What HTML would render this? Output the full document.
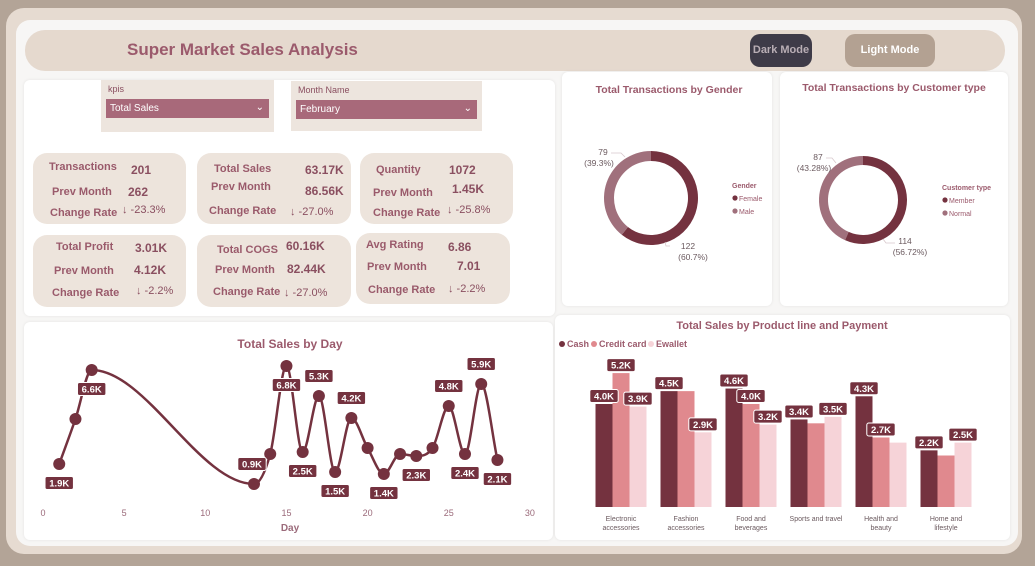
<!DOCTYPE html>
<html><head><meta charset="utf-8"><style>
*{box-sizing:border-box;margin:0;padding:0}
body{width:1035px;height:566px;overflow:hidden;background:#b3a497;font-family:"Liberation Sans",sans-serif;position:relative}
.abs{position:absolute}
.frame{left:6px;top:8px;width:1016px;height:546px;background:#e6dbd1;border-radius:18px}
.inner{left:16px;top:20px;width:1002px;height:526px;background:#f7f6f5;border-radius:14px}
.header{left:25px;top:30px;width:980px;height:41px;background:#e5d9ce;border-radius:20px}
.title{left:127px;top:40px;font-size:17px;font-weight:bold;color:#9b5a6c}
.btn{border-radius:10px;font-size:11px;font-weight:bold;text-align:center;line-height:32px}
.panel{background:#fff;border-radius:6px;box-shadow:0 0 3px rgba(0,0,0,.08)}
.slicer{background:#ede5de}
.slicer .lbl{position:absolute;left:7px;top:4px;font-size:9px;color:#8a4f60}
.slicer .dd{position:absolute;left:5px;top:19px;height:19px;background:#a8697a;color:#fff;font-size:10px;padding-left:4px;line-height:19px}
.card{background:#ede4dc;border-radius:14px;color:#9a5a6b;font-size:11px;font-weight:bold}
.card span{position:absolute;white-space:nowrap}
.card .v{color:#8a4f60;font-size:12px}
</style></head><body>
<div class="abs frame"></div>
<div class="abs inner"></div>
<div class="abs header"></div>
<div class="abs title">Super Market Sales Analysis</div>
<div class="abs btn" style="left:750px;top:34px;width:62px;height:33px;background:#3e3b48;color:#b9aeb5">Dark Mode</div>
<div class="abs btn" style="left:845px;top:34px;width:90px;height:33px;background:#b3a192;color:#fff">Light Mode</div>

<div class="abs panel" style="left:24px;top:80px;width:531px;height:236px"></div>
<div class="abs slicer" style="left:101px;top:80px;width:173px;height:52px">
 <div class="lbl">kpis</div>
 <div class="dd" style="width:163px">Total Sales<span style="position:absolute;right:5px;top:-1px">&#8964;</span></div>
</div>
<div class="abs slicer" style="left:291px;top:81px;width:191px;height:50px">
 <div class="lbl">Month Name</div>
 <div class="dd" style="width:181px">February<span style="position:absolute;right:5px;top:-1px">&#8964;</span></div>
</div>

<div class="abs card" style="left:33px;top:153px;width:153px;height:71px">
 <span style="left:16px;top:8px">Transactions</span><span class="v" style="left:98px;top:10px">201</span>
 <span style="left:19px;top:33px">Prev Month</span><span class="v" style="left:95px;top:32px">262</span>
 <span style="left:17px;top:54px">Change Rate</span><span style="left:89px;top:51px;font-weight:normal;color:#8a4f60">↓ -23.3%</span></div>
<div class="abs card" style="left:197px;top:153px;width:154px;height:71px">
 <span style="left:17px;top:10px">Total Sales</span><span class="v" style="left:108px;top:10px">63.17K</span>
 <span style="left:14px;top:28px">Prev Month</span><span class="v" style="left:108px;top:31px">86.56K</span>
 <span style="left:12px;top:52px">Change Rate</span><span style="left:93px;top:53px;font-weight:normal;color:#8a4f60">↓ -27.0%</span></div>
<div class="abs card" style="left:360px;top:153px;width:153px;height:71px">
 <span style="left:16px;top:11px">Quantity</span><span class="v" style="left:89px;top:10px">1072</span>
 <span style="left:13px;top:34px">Prev Month</span><span class="v" style="left:92px;top:29px">1.45K</span>
 <span style="left:13px;top:54px">Change Rate</span><span style="left:87px;top:51px;font-weight:normal;color:#8a4f60">↓ -25.8%</span></div>
<div class="abs card" style="left:33px;top:235px;width:153px;height:72px">
 <span style="left:23px;top:6px">Total Profit</span><span class="v" style="left:102px;top:6px">3.01K</span>
 <span style="left:21px;top:30px">Prev Month</span><span class="v" style="left:101px;top:28px">4.12K</span>
 <span style="left:19px;top:52px">Change Rate</span><span style="left:103px;top:50px;font-weight:normal;color:#8a4f60">↓ -2.2%</span></div>
<div class="abs card" style="left:197px;top:235px;width:154px;height:72px">
 <span style="left:20px;top:9px">Total COGS</span><span class="v" style="left:89px;top:4px">60.16K</span>
 <span style="left:18px;top:29px">Prev Month</span><span class="v" style="left:90px;top:27px">82.44K</span>
 <span style="left:16px;top:51px">Change Rate</span><span style="left:87px;top:52px;font-weight:normal;color:#8a4f60">↓ -27.0%</span></div>
<div class="abs card" style="left:356px;top:233px;width:154px;height:71px">
 <span style="left:10px;top:6px">Avg Rating</span><span class="v" style="left:92px;top:7px">6.86</span>
 <span style="left:11px;top:28px">Prev Month</span><span class="v" style="left:101px;top:26px">7.01</span>
 <span style="left:12px;top:51px">Change Rate</span><span style="left:92px;top:50px;font-weight:normal;color:#8a4f60">↓ -2.2%</span></div>

<div class="abs panel" style="left:562px;top:72px;width:210px;height:234px"></div>
<div class="abs panel" style="left:780px;top:72px;width:228px;height:234px"></div>
<div class="abs panel" style="left:24px;top:322px;width:529px;height:218px"></div>
<div class="abs panel" style="left:555px;top:315px;width:455px;height:225px"></div>

<svg class="abs" style="left:0;top:0" width="1035" height="566" id="charts" font-family="Liberation Sans, sans-serif"></svg>

<script>
// ---------- data ----------
const days = [1,2,3,13,14,15,16,17,18,19,20,21,22,23,24,25,26,27,28];
const daySales = [1.9,4.15,6.6,0.9,2.4,6.8,2.5,5.3,1.5,4.2,2.7,1.4,2.4,2.3,2.7,4.8,2.4,5.9,2.1];
const dayLabelPos = ['b','','b','a','','b','b','a','b','a','','b','','b','','a','b','a','b'];
const xTicks = [0,5,10,15,20,25,30];

const productLines = [['Electronic','accessories'],['Fashion','accessories'],['Food and','beverages'],['Sports and travel'],['Health and','beauty'],['Home and','lifestyle']];
const cashSales = [4.0,4.5,4.6,3.4,4.3,2.2];
const creditSales = [5.2,4.5,4.0,3.25,2.7,2.0];
const ewalletSales = [3.9,2.9,3.2,3.5,2.5,2.5];
const cashShow = [true,true,true,true,true,true];
const creditShow = [true,false,true,false,true,false];
const ewalletShow = [true,true,true,true,false,true];

const genderLabels = ['Female','Male'];
const genderValues = [122,79];
const customerLabels = ['Member','Normal'];
const customerValues = [114,87];

const NS='http://www.w3.org/2000/svg';
const svg=document.getElementById('charts');
function el(tag,attrs,parent){const e=document.createElementNS(NS,tag);for(const k in attrs)e.setAttribute(k,attrs[k]);(parent||svg).appendChild(e);return e;}
function txt(x,y,s,attrs){const t=el('text',Object.assign({x:x,y:y},attrs||{}));t.textContent=s;return t;}
function fmt(v){return v.toFixed(1)+'K';}
function labelBox(cx,cy,s,name){
  const w=s.length*5.6+6,h=13;
  const g=el('g',{});
  
  
  el('rect',{x:cx-w/2,y:cy-h/2,width:w,height:h,rx:2,fill:'#74323f',stroke:'#fff','stroke-width':1},g);
  const t=el('text',{x:cx,y:cy+3.5,'text-anchor':'middle','font-size':9.5,'font-weight':'bold',fill:'#fff'},g);t.textContent=s;
}

// ---------- line chart ----------
const lx=d=>43+d*16.23, ly=v=>502-v*20;
let t1=txt(290,348,'Total Sales by Day',{'text-anchor':'middle','font-size':12,'font-weight':'bold',fill:'#9b5a6c'});

xTicks.forEach(d=>{const t=txt(lx(d),516,String(d),{'text-anchor':'middle','font-size':9,fill:'#9b6a7a'});
});
let t2=txt(290,531,'Day',{'text-anchor':'middle','font-size':10,'font-weight':'bold',fill:'#9b6a7a'});

const X=days.map(lx),Y=daySales.map(ly),n=X.length;
const dd=[],m=[];
for(let i=0;i<n-1;i++)dd.push((Y[i+1]-Y[i])/(X[i+1]-X[i]));
for(let i=0;i<n;i++){if(i==0)m.push(dd[0]);else if(i==n-1)m.push(dd[n-2]);else m.push(dd[i-1]*dd[i]<=0?0:(dd[i-1]+dd[i])/2);}
for(let i=0;i<n-1;i++){if(dd[i]==0){m[i]=m[i+1]=0;continue;}const a=m[i]/dd[i],b=m[i+1]/dd[i],s=a*a+b*b;if(s>9){const tt=3/Math.sqrt(s);m[i]=tt*a*dd[i];m[i+1]=tt*b*dd[i];}}
let p='M'+X[0]+','+Y[0];
for(let i=0;i<n-1;i++){const h=(X[i+1]-X[i])/3;p+=' C'+(X[i]+h)+','+(Y[i]+m[i]*h)+' '+(X[i+1]-h)+','+(Y[i+1]-m[i+1]*h)+' '+X[i+1]+','+Y[i+1];}
const line=el('path',{d:p,fill:'none',stroke:'#74323f','stroke-width':2.5});

days.forEach((d,i)=>{const c=el('circle',{cx:X[i],cy:Y[i],r:6,fill:'#74323f'});
});
days.forEach((d,i)=>{if(!dayLabelPos[i])return;labelBox(X[i]+(dayLabelPos[i]=='a'&&d==13?-2:0),Y[i]+(dayLabelPos[i]=='a'?-20:19),fmt(daySales[i]),'label-day-'+d);});

// ---------- bar chart ----------
const by=v=>507-v*25.75;
let t3=txt(782,329,'Total Sales by Product line and Payment',{'text-anchor':'middle','font-size':11,'font-weight':'bold',fill:'#9b5a6c'});

const legend=[['Cash','#74323f',559],['Credit card','#e0898e',591],['Ewallet','#f6d3d8',648]];
legend.forEach(l=>{const g=el('g',{});
el('circle',{cx:l[2]+3,cy:344,r:3,fill:l[1]},g);const t=el('text',{x:l[2]+8,y:347,'font-size':9,'font-weight':'bold',fill:'#9b5a6c'},g);t.textContent=l[0];});
const series=[[cashSales,'#74323f',cashShow,'cash'],[creditSales,'#e0898e',creditShow,'credit'],[ewalletSales,'#f6d3d8',ewalletShow,'ewallet']];
productLines.forEach((pl,gi)=>{
  const gx=621+gi*65;
  series.forEach((s,si)=>{const x0=gx-25.5+si*17,v=s[0][gi];
    const r=el('rect',{x:x0,y:by(v),width:17,height:507-by(v),fill:s[1]});
    });
  series.forEach((s,si)=>{if(!s[2][gi])return;const x0=gx-25.5+si*17,v=s[0][gi];labelBox(x0+8.5,by(v)-8,fmt(v),'label-'+s[3]+'-'+gi);});
  pl.forEach((w,li)=>{const t=txt(gx,521+li*9,w,{'text-anchor':'middle','font-size':7,fill:'#6b5a5f'});
  });
});

// ---------- donuts ----------
// labelAnchors: layout positions for the outside labels (one per slice)
function donut(cx,cy,R,r,vals,labels,cols,name,title,tx,ty,legTitle,lx0,ly0,pctDigits,anchors){
  const tot=vals.reduce((a,b)=>a+b,0);let a0=-Math.PI/2;
  const tt=txt(tx,ty,title,{'text-anchor':'middle','font-size':10.5,'font-weight':'bold',fill:'#9b5a6c'});
  
  vals.forEach((v,i)=>{const a1=a0+v/tot*2*Math.PI,lg=(a1-a0)>Math.PI?1:0;
    const P=(rr,a)=>(cx+rr*Math.cos(a))+','+(cy+rr*Math.sin(a));
    const s=el('path',{d:'M'+P(R,a0)+' A'+R+','+R+' 0 '+lg+' 1 '+P(R,a1)+' L'+P(r,a1)+' A'+r+','+r+' 0 '+lg+' 0 '+P(r,a0)+' Z',fill:cols[i]});
    
    const an=anchors[i];
    el('polyline',{points:an[2],fill:'none',stroke:'#d8c8cc','stroke-width':0.8});
    const l1=txt(an[0],an[1],String(v),{'text-anchor':'middle','font-size':8.5,fill:'#6b5a5f'});
    
    const l2=txt(an[0]+(i==0?5:-4),an[1]+11,'('+(v/tot*100).toFixed(pctDigits)+'%)',{'text-anchor':'middle','font-size':8.5,fill:'#6b5a5f'});
    
    a0=a1;});
  const lt=txt(lx0,ly0,legTitle,{'font-size':7,'font-weight':'bold',fill:'#9b5a6c'});
  
  labels.forEach((l,i)=>{const g=el('g',{});
    el('circle',{cx:lx0+3,cy:ly0+10+i*13,r:2.6,fill:cols[i]},g);const t=el('text',{x:lx0+7,y:ly0+13+i*13,'font-size':7,fill:'#9b5a6c'},g);t.textContent=l;});
}
donut(651,198,47,37,genderValues,genderLabels,['#74323f','#a0707c'],'gender','Total Transactions by Gender',669,93,'Gender',732,188,1,
  [[688,249,'665,242 666,246 670,246'],[603,155,'611,153 621,153 625,157']]);
donut(863,200,44,35,customerValues,customerLabels,['#74323f','#a0707c'],'customer','Total Transactions by Customer type',894,91,'Customer type',942,190,2,
  [[905,244,'883,239 886,243 895,243'],[818,160,'826,158 832,158 836,163']]);
</script>
</body></html>
